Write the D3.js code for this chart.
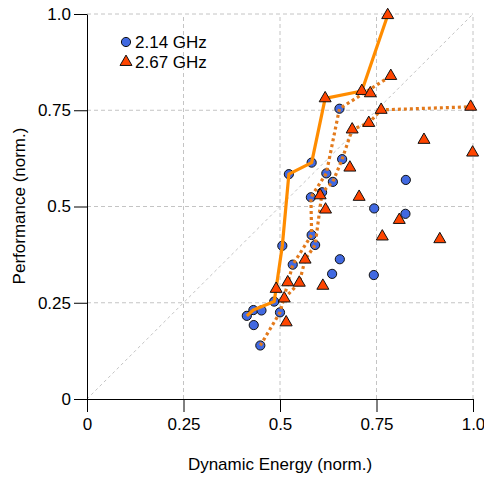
<!DOCTYPE html>
<html><head><meta charset="utf-8">
<script src="https://cdn.jsdelivr.net/npm/d3@7"></script>
<style>body{margin:0;background:#fff}svg{display:block}text{font-family:"Liberation Sans",Arial,sans-serif}</style>
</head><body><div id="c"></div>
<script>
const ticks = [0, 0.25, 0.5, 0.75, 1.0];
const tickLabels = ["0", "0.25", "0.5", "0.75", "1.0"];
const seriesNames = ["2.14 GHz", "2.67 GHz"];
// 2.14 GHz (circles)
const circX = [0.414,0.431,0.452,0.432,0.449,0.500,0.485,0.533,0.506,0.582,0.591,0.580,0.609,0.523,0.582,0.661,0.620,0.637,0.654,0.655,0.635,0.744,0.825,0.826,0.743];
const circY = [0.216,0.231,0.230,0.192,0.139,0.225,0.253,0.349,0.398,0.426,0.400,0.524,0.537,0.584,0.614,0.623,0.586,0.564,0.754,0.363,0.325,0.495,0.481,0.569,0.322];
// 2.67 GHz (triangles)
const triX = [0.779,0.787,0.712,0.734,0.762,0.994,0.730,0.687,0.873,0.999,0.617,0.681,0.604,0.705,0.618,0.809,0.765,0.914,0.565,0.520,0.550,0.611,0.490,0.511,0.516];
const triY = [0.997,0.839,0.800,0.794,0.751,0.759,0.717,0.700,0.673,0.640,0.781,0.601,0.529,0.525,0.492,0.465,0.422,0.415,0.362,0.303,0.302,0.294,0.286,0.261,0.199];
// frontier lines
const solidX = [0.414,0.431,0.485,0.506,0.523,0.582,0.617,0.712,0.779];
const solidY = [0.216,0.231,0.253,0.398,0.584,0.614,0.781,0.800,0.997];
const dotAX = [0.449,0.500,0.533,0.582,0.580,0.620,0.654,0.787];
const dotAY = [0.139,0.225,0.349,0.426,0.524,0.586,0.754,0.839];
const dotBX = [0.511,0.550,0.565,0.591,0.609,0.637,0.661,0.687,0.730,0.762,0.994];
const dotBY = [0.261,0.302,0.362,0.400,0.537,0.564,0.623,0.700,0.717,0.751,0.759];

const W = 484, H = 477;
const x = d3.scaleLinear().domain([0,1]).range([87,473]);
const y = d3.scaleLinear().domain([0,1]).range([399,14]);
const svg = d3.select("#c").append("svg").attr("width",W).attr("height",H);

// grid
const g = svg.append("g");
ticks.slice(1).forEach(t=>{
  g.append("line").attr("x1",x(t)).attr("x2",x(t)).attr("y1",y(0)).attr("y2",y(1))
   .attr("stroke","#c4c4c4").attr("stroke-dasharray","4,3");
  g.append("line").attr("x1",x(0)).attr("x2",x(1)).attr("y1",y(t)).attr("y2",y(t))
   .attr("stroke","#c4c4c4").attr("stroke-dasharray","4,3");
});
g.append("line").attr("x1",x(0)).attr("y1",y(0)).attr("x2",x(1)).attr("y2",y(1))
 .attr("stroke","#c4c4c4").attr("stroke-dasharray","3,3");

// axes
const xAxis = d3.axisBottom(x).tickValues(ticks).tickFormat((d,i)=>tickLabels[i]).tickSize(13).tickSizeOuter(0).tickPadding(6);
const yAxis = d3.axisLeft(y).tickValues(ticks).tickFormat((d,i)=>tickLabels[i]).tickSize(13).tickSizeOuter(0).tickPadding(3);
const xa = svg.append("g").attr("transform",`translate(0,${y(0)})`).call(xAxis);
const ya = svg.append("g").attr("transform",`translate(${x(0)},0)`).call(yAxis);
[xa,ya].forEach(a=>{a.selectAll("path,line").attr("stroke","#000");a.selectAll("text").attr("font-size",17).attr("fill","#000").style("font-family","Liberation Sans, Arial, sans-serif");});

// points circles
const pts = svg.append("g");
pts.selectAll("circle").data(circX).join("circle")
  .attr("cx",(d)=>x(d)).attr("cy",(d,i)=>y(circY[i])).attr("r",4.6)
  .attr("fill","#4169e1").attr("stroke","#111").attr("stroke-width",1);

// lines
const line = d3.line().x(d=>x(d[0])).y(d=>y(d[1]));
svg.append("path").attr("d",line(solidX.map((v,i)=>[v,solidY[i]]))).attr("fill","none")
  .attr("stroke","#ff8c00").attr("stroke-width",3.2).attr("stroke-linejoin","round");
[[dotAX,dotAY],[dotBX,dotBY]].forEach(([lx,ly])=>{
  svg.append("path").attr("d",line(lx.map((v,i)=>[v,ly[i]]))).attr("fill","none")
   .attr("stroke","#e37a1c").attr("stroke-width",3.2).attr("stroke-dasharray","3,3");
});

// triangles
const tri = d3.symbol().type(d3.symbolTriangle).size(62);
svg.append("g").selectAll("path").data(triX).join("path")
  .attr("d",tri).attr("transform",(d,i)=>`translate(${x(d)},${y(triY[i])})`)
  .attr("fill","#ff4500").attr("stroke","#111").attr("stroke-width",1);

// legend
const lg = svg.append("g");
lg.append("circle").attr("cx",126).attr("cy",42).attr("r",4.6).attr("fill","#4169e1").attr("stroke","#111");
lg.append("path").attr("d",tri).attr("transform","translate(126,62)").attr("fill","#ff4500").attr("stroke","#111");
lg.selectAll("text").data(seriesNames).join("text").attr("x",135).attr("y",(d,i)=>42+i*20).attr("dy","0.35em")
  .attr("font-size",17).text(d=>d);

// titles
svg.append("text").attr("x",280).attr("y",470).attr("text-anchor","middle").attr("font-size",17).text("Dynamic Energy (norm.)");
svg.append("text").attr("transform","translate(25,206) rotate(-90)").attr("text-anchor","middle").attr("font-size",17).text("Performance (norm.)");
</script></body></html>
